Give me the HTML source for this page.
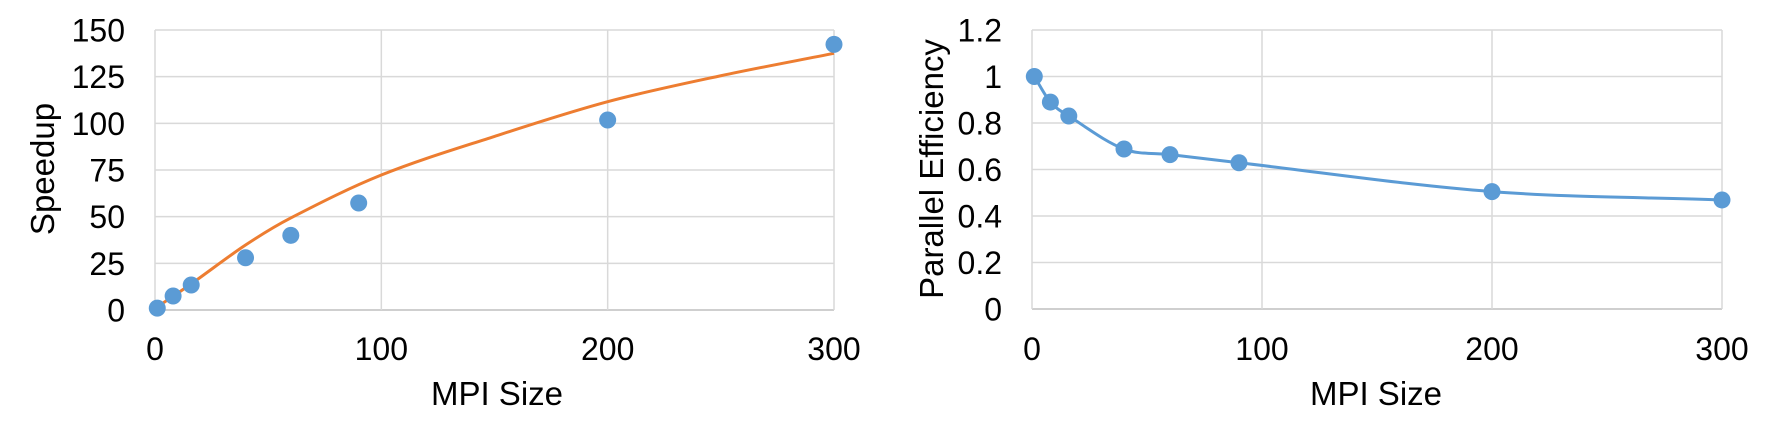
<!DOCTYPE html>
<html><head><meta charset="utf-8"><style>
html,body{margin:0;padding:0;background:#fff;}
svg{display:block;font-family:"Liberation Sans",Arial,sans-serif;}
</style></head><body>
<svg id="c" width="1772" height="438" viewBox="0 0 1772 438" xmlns="http://www.w3.org/2000/svg"></svg>
<script>
const xTicks = [0, 100, 200, 300];
const mpiSizes = [1, 8, 16, 40, 60, 90, 200, 300];
const speedupValues = [1, 7.5, 13.4, 28, 40, 57.3, 101.8, 142.3];
const trendX = [3.5, 16, 40, 60, 100, 150, 200, 250, 300];
const trendY = [3.7, 14, 34.8, 49.3, 72.3, 93, 111.6, 125.5, 137.5];
const speedupTicks = [0, 25, 50, 75, 100, 125, 150];
const efficiencyValues = [1.0, 0.89, 0.83, 0.688, 0.664, 0.629, 0.505, 0.469];
const efficiencyTicks = [0, 0.2, 0.4, 0.6, 0.8, 1, 1.2];

const NS = "http://www.w3.org/2000/svg";
const svg = document.getElementById('c');
function mk(tag, attrs, parent) {
  const e = document.createElementNS(NS, tag);
  for (const k in attrs) e.setAttribute(k, attrs[k]);
  (parent || svg).appendChild(e);
  return e;
}
function smooth(pts) {
  const n = pts.length;
  const m = pts.map((p, i) => {
    const a = pts[Math.max(0, i - 1)], b = pts[Math.min(n - 1, i + 1)];
    return (b[1] - a[1]) / (b[0] - a[0]);
  });
  let d = `M${pts[0][0]},${pts[0][1]}`;
  for (let i = 0; i < n - 1; i++) {
    const p1 = pts[i], p2 = pts[i + 1], dx = (p2[0] - p1[0]) / 3;
    d += ` C${p1[0] + dx},${p1[1] + m[i] * dx} ${p2[0] - dx},${p2[1] - m[i + 1] * dx} ${p2[0]},${p2[1]}`;
  }
  return d;
}
function chart(cfg) {
  const g = mk('g', {});
  
  
  const sx = v => cfg.x0 + v / 300 * (cfg.x1 - cfg.x0);
  const sy = v => cfg.y0 - v / cfg.ymax * (cfg.y0 - cfg.y1);
  cfg.yTicks.forEach(t => {
    const l = mk('line', {x1: cfg.x0, x2: cfg.x1, y1: sy(t), y2: sy(t), stroke: t === 0 ? '#bfbfbf' : '#d9d9d9', 'stroke-width': 1.5}, g);
    
    
    const tx = mk('text', {x: cfg.labelRight, y: sy(t) + 11.5, 'text-anchor': 'end', 'font-size': 32, fill: '#000'}, g);
    
    
    tx.textContent = String(t);
  });
  xTicks.forEach(t => {
    const l = mk('line', {x1: sx(t), x2: sx(t), y1: cfg.y1, y2: cfg.y0, stroke: '#d9d9d9', 'stroke-width': 1.5}, g);
    
    
    const tx = mk('text', {x: sx(t), y: 360, 'text-anchor': 'middle', 'font-size': 32, fill: '#000'}, g);
    
    
    tx.textContent = String(t);
  });
  const xt = mk('text', {x: cfg.xTitleX, y: 405, 'text-anchor': 'middle', 'font-size': 33, fill: '#000'}, g);
  
  
  xt.textContent = 'MPI Size';
  const yt = mk('text', {x: 0, y: 0, 'text-anchor': 'middle', 'font-size': 33, fill: '#000', transform: `translate(${cfg.yTitleX},169) rotate(-90)`}, g);
  
  
  yt.textContent = cfg.yTitle;
  const p = mk('path', {d: smooth(cfg.lineX.map((v, i) => [sx(v), sy(cfg.lineY[i])])), fill: 'none', stroke: cfg.lineColor, 'stroke-width': 3}, g);
  
  
  mpiSizes.forEach((v, i) => {
    const c = mk('circle', {cx: sx(v), cy: sy(cfg.values[i]), r: 8.5, fill: '#5b9bd5'}, g);
    
    
  });
}
chart({name: 'speedup-chart', x0: 155, x1: 834, y0: 310, y1: 30, ymax: 150, yTicks: speedupTicks, labelRight: 125,
  xTitleX: 497, yTitleX: 54, yTitle: 'Speedup', values: speedupValues,
  lineX: trendX, lineY: trendY, lineColor: '#ed7d31', lineName: 'speedup-trendline'});
chart({name: 'efficiency-chart', x0: 1032, x1: 1722, y0: 309, y1: 30, ymax: 1.2, yTicks: efficiencyTicks, labelRight: 1002,
  xTitleX: 1376, yTitleX: 943, yTitle: 'Parallel Efficiency', values: efficiencyValues,
  lineX: mpiSizes, lineY: efficiencyValues, lineColor: '#5b9bd5', lineName: 'efficiency-line'});
</script>
</body></html>
